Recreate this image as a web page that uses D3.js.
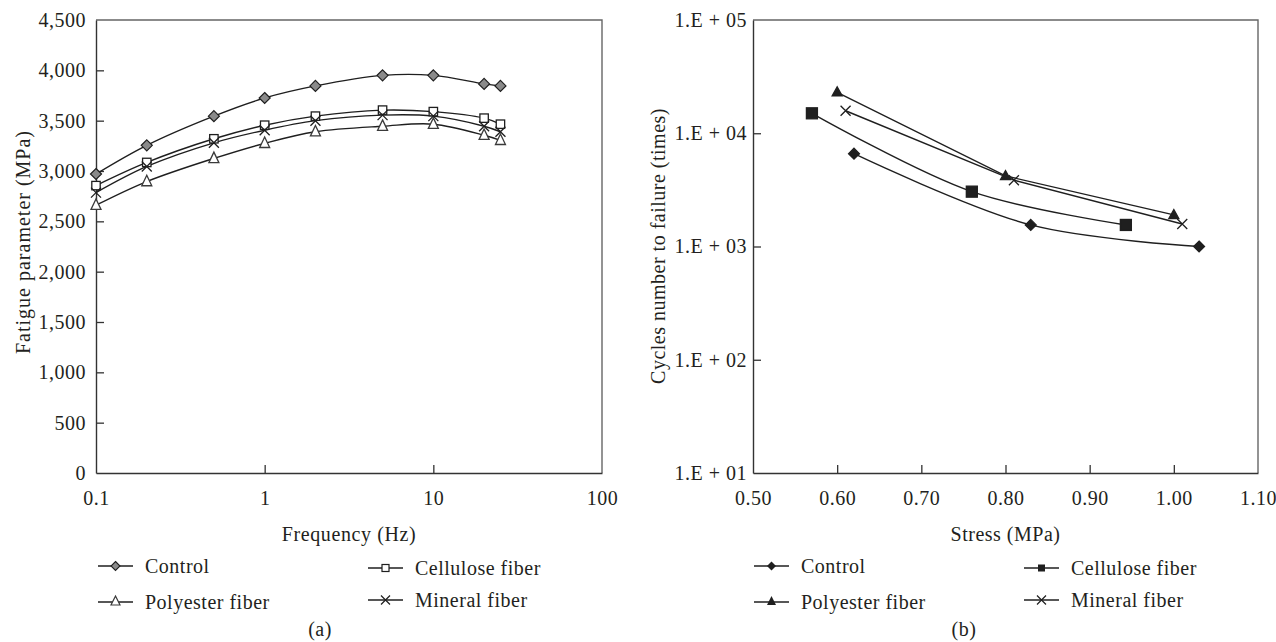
<!DOCTYPE html>
<html>
<head>
<meta charset="utf-8">
<script src="https://cdn.jsdelivr.net/npm/d3@7"></script>
<style>
  html, body { margin: 0; padding: 0; background: #fff; }
  svg text { font-family: "Liberation Serif", "Times New Roman", serif; fill: #231f20; letter-spacing: 0.5px; }
</style>
</head>
<body>
<svg id="chart" width="1276" height="642"></svg>
<script>
// ---------- Data (a): fatigue parameter vs frequency ----------
const frequency = [0.1, 0.2, 0.5, 1, 2, 5, 10, 20, 25];
const controlA   = [2970, 3255, 3545, 3725, 3845, 3950, 3950, 3865, 3845];
const celluloseA = [2855, 3085, 3320, 3455, 3545, 3605, 3590, 3525, 3465];
const polyesterA = [2660, 2895, 3125, 3275, 3390, 3445, 3465, 3355, 3305];
const mineralA   = [2785, 3045, 3280, 3405, 3500, 3555, 3545, 3445, 3390];
const freqTicks  = [0.1, 1, 10, 100];
const fatigueTicks = [0, 500, 1000, 1500, 2000, 2500, 3000, 3500, 4000, 4500];

// ---------- Data (b): cycles to failure vs stress ----------
const stressControl   = [0.62, 0.83, 1.03];
const cyclesControl   = [6600, 1550, 1000];
const stressCellulose = [0.57, 0.76, 0.943];
const cyclesCellulose = [15000, 3050, 1550];
const stressPolyester = [0.60, 0.80, 1.00];
const cyclesPolyester = [23000, 4200, 1900];
const stressMineral   = [0.61, 0.81, 1.01];
const cyclesMineral   = [15800, 3850, 1580];
const stressTicks = [0.5, 0.6, 0.7, 0.8, 0.9, 1.0, 1.1];
const cycleTicks  = [10, 100, 1000, 10000, 100000];

const seriesNames = ["Control", "Cellulose fiber", "Polyester fiber", "Mineral fiber"];

const svg = d3.select("#chart");
const FS = 20;
const DARK = "#1f1f1f";

function drawMarker(g, type, x, y, filled) {
  if (type === "diamond") {
    const r = 5.5;
    g.append("path")
      .attr("d", `M${x},${y - r}L${x + r},${y}L${x},${y + r}L${x - r},${y}Z`)
      .attr("fill", filled ? DARK : "#8a8a8a")
      .attr("stroke", DARK).attr("stroke-width", 1.2);
  } else if (type === "square") {
    const s = filled ? 5.5 : 4.2;
    g.append("rect")
      .attr("x", x - s).attr("y", y - s).attr("width", 2 * s).attr("height", 2 * s)
      .attr("fill", filled ? DARK : "#fff")
      .attr("stroke", DARK).attr("stroke-width", 1.3);
  } else if (type === "triangle") {
    const w = 5, h = filled ? 9 : 10.5;
    g.append("path")
      .attr("d", `M${x},${y - h * 0.6}L${x + w},${y + h * 0.4}L${x - w},${y + h * 0.4}Z`)
      .attr("fill", filled ? DARK : "#fff")
      .attr("stroke", filled ? DARK : "#3a3a3a").attr("stroke-width", 1.3);
  } else if (type === "x") {
    const s = 5;
    g.append("path")
      .attr("d", `M${x - s},${y - s}L${x + s},${y + s}M${x - s},${y + s}L${x + s},${y - s}`)
      .attr("fill", "none").attr("stroke", DARK).attr("stroke-width", 1.3);
  }
}

function legendMarker(g, type, cx, cy, filled) {
  if (type === "square") {
    g.append("rect").attr("x", cx - 3.5).attr("y", cy - 3.5).attr("width", 7).attr("height", 7)
      .attr("fill", filled ? DARK : "#fff").attr("stroke", DARK).attr("stroke-width", filled ? 0 : 1.2);
  } else if (type === "diamond") {
    const r = 4.5;
    g.append("path").attr("d", `M${cx},${cy - r}L${cx + r},${cy}L${cx},${cy + r}L${cx - r},${cy}Z`)
      .attr("fill", filled ? DARK : "#8a8a8a").attr("stroke", DARK).attr("stroke-width", filled ? 0 : 1.1);
  } else if (type === "triangle") {
    g.append("path").attr("d", `M${cx},${cy - 6}L${cx + 4.5},${cy + 3}L${cx - 4.5},${cy + 3}Z`)
      .attr("fill", filled ? DARK : "#fff").attr("stroke", filled ? "none" : "#3a3a3a").attr("stroke-width", 1.2);
  } else {
    const s = 4.5;
    g.append("path").attr("d", `M${cx - s},${cy - s}L${cx + s},${cy + s}M${cx - s},${cy + s}L${cx + s},${cy - s}`)
      .attr("stroke", DARK).attr("stroke-width", 1.2);
  }
}

function styleAxis(g) {
  g.selectAll(".domain").attr("stroke", "#333").attr("stroke-width", 1.4);
  g.selectAll(".tick line").attr("stroke", "#333").attr("stroke-width", 1.3);
  g.selectAll(".tick text").attr("font-size", FS).attr("fill", "#231f20");
  g.attr("font-family", null);
}

function frame(g, x0, x1, y0, y1) {
  g.append("path")
    .attr("d", `M${x0},${y0}L${x1},${y0}L${x1},${y1}`)
    .attr("fill", "none").attr("stroke", "#666").attr("stroke-width", 1.4);
}

function legend(g, items, filled) {
  items.forEach(d => {
    g.append("line").attr("x1", d.lx).attr("x2", d.lx + 35).attr("y1", d.ly).attr("y2", d.ly)
      .attr("stroke", DARK).attr("stroke-width", 1.4);
    legendMarker(g, d.type, d.lx + 17.5, d.ly, filled);
    g.append("text").attr("x", d.lx + 47).attr("y", d.ly + 6.5).attr("font-size", FS).text(d.name);
  });
}

// ================= Chart (a) =================
{
  const L = 96, R = 602, T = 20, B = 473;
  const x = d3.scaleLog().domain([0.1, 100]).range([L, R]);
  const y = d3.scaleLinear().domain([0, 4500]).range([B, T]);
  const g = svg.append("g");
  frame(g, L, R, T, B);

  const xa = g.append("g").attr("transform", `translate(0,${B})`)
    .call(d3.axisBottom(x).tickValues(freqTicks).tickFormat(d => String(d))
      .tickSizeInner(-8).tickSizeOuter(0).tickPadding(18));
  xa.selectAll(".tick line").filter(d => d === 0.1 || d === 100).remove();
  styleAxis(xa);

  const ya = g.append("g").attr("transform", `translate(${L},0)`)
    .call(d3.axisLeft(y).tickValues(fatigueTicks).tickFormat(d3.format(","))
      .tickSizeInner(-8).tickSizeOuter(0).tickPadding(10));
  ya.selectAll(".tick line").filter(d => d === 0 || d === 4500).remove();
  styleAxis(ya);

  g.append("text").attr("x", (L + R) / 2).attr("y", 541).attr("text-anchor", "middle")
    .attr("font-size", FS).style("letter-spacing", "0.6px").text("Frequency (Hz)");
  g.append("text").attr("transform", `translate(30,242) rotate(-90)`).attr("text-anchor", "middle")
    .attr("font-size", FS).style("letter-spacing", "1px").text("Fatigue parameter (MPa)");

  const sets = [
    { vals: controlA, type: "diamond" },
    { vals: celluloseA, type: "square" },
    { vals: polyesterA, type: "triangle" },
    { vals: mineralA, type: "x" }
  ];
  const line = d3.line().x(d => x(d[0])).y(d => y(d[1])).curve(d3.curveCatmullRom.alpha(0.5));
  sets.forEach(s => {
    const pts = frequency.map((f, i) => [f, s.vals[i]]);
    g.append("path").attr("d", line(pts)).attr("fill", "none")
      .attr("stroke", DARK).attr("stroke-width", 1.4);
  });
  sets.forEach(s => {
    frequency.forEach((f, i) => drawMarker(g, s.type, x(f), y(s.vals[i]), false));
  });

  legend(g, [
    { name: seriesNames[0], type: "diamond", lx: 98, ly: 566 },
    { name: seriesNames[1], type: "square", lx: 368, ly: 568 },
    { name: seriesNames[2], type: "triangle", lx: 98, ly: 602 },
    { name: seriesNames[3], type: "x", lx: 368, ly: 600 }
  ], false);
  g.append("text").attr("x", 320).attr("y", 636).attr("text-anchor", "middle").attr("font-size", FS).text("(a)");
}

// ================= Chart (b) =================
{
  const L = 753, R = 1258, T = 20, B = 473;
  const x = d3.scaleLinear().domain([0.5, 1.1]).range([L, R]);
  const y = d3.scaleLog().domain([10, 100000]).range([B, T]);
  const g = svg.append("g");
  frame(g, L, R, T, B);

  const xa = g.append("g").attr("transform", `translate(0,${B})`)
    .call(d3.axisBottom(x).tickValues(stressTicks).tickFormat(d3.format(".2f"))
      .tickSizeInner(-8).tickSizeOuter(0).tickPadding(18));
  xa.selectAll(".tick line").filter((d, i) => i === 0 || i === stressTicks.length - 1).remove();
  styleAxis(xa);

  const ya = g.append("g").attr("transform", `translate(${L},0)`)
    .call(d3.axisLeft(y).tickValues(cycleTicks)
      .tickFormat(d => "1.E + " + String(Math.round(Math.log10(d))).padStart(2, "0"))
      .tickSizeInner(-8).tickSizeOuter(0).tickPadding(6));
  ya.selectAll(".tick line").filter(d => d === 10 || d === 100000).remove();
  styleAxis(ya);

  g.append("text").attr("x", (L + R) / 2).attr("y", 541).attr("text-anchor", "middle")
    .attr("font-size", FS).text("Stress (MPa)");
  g.append("text").attr("transform", `translate(665,246) rotate(-90)`).attr("text-anchor", "middle")
    .attr("font-size", FS).style("letter-spacing", "0.5px").text("Cycles number to failure (times)");

  const sets = [
    { xs: stressControl, ys: cyclesControl, type: "diamond", curve: d3.curveCatmullRom.alpha(0.5) },
    { xs: stressCellulose, ys: cyclesCellulose, type: "square", curve: d3.curveCatmullRom.alpha(0.5) },
    { xs: stressPolyester, ys: cyclesPolyester, type: "triangle", curve: d3.curveLinear },
    { xs: stressMineral, ys: cyclesMineral, type: "x", curve: d3.curveLinear }
  ];
  sets.forEach(s => {
    const pts = s.xs.map((v, i) => [v, s.ys[i]]);
    const line = d3.line().x(d => x(d[0])).y(d => y(d[1])).curve(s.curve);
    g.append("path").attr("d", line(pts)).attr("fill", "none")
      .attr("stroke", DARK).attr("stroke-width", 1.4);
  });
  sets.forEach(s => {
    s.xs.forEach((v, i) => drawMarker(g, s.type, x(v), y(s.ys[i]), true));
  });

  legend(g, [
    { name: seriesNames[0], type: "diamond", lx: 754, ly: 566 },
    { name: seriesNames[1], type: "square", lx: 1024, ly: 568 },
    { name: seriesNames[2], type: "triangle", lx: 754, ly: 602 },
    { name: seriesNames[3], type: "x", lx: 1024, ly: 600 }
  ], true);
  g.append("text").attr("x", 964).attr("y", 636).attr("text-anchor", "middle").attr("font-size", FS).text("(b)");
}
</script>
</body>
</html>
